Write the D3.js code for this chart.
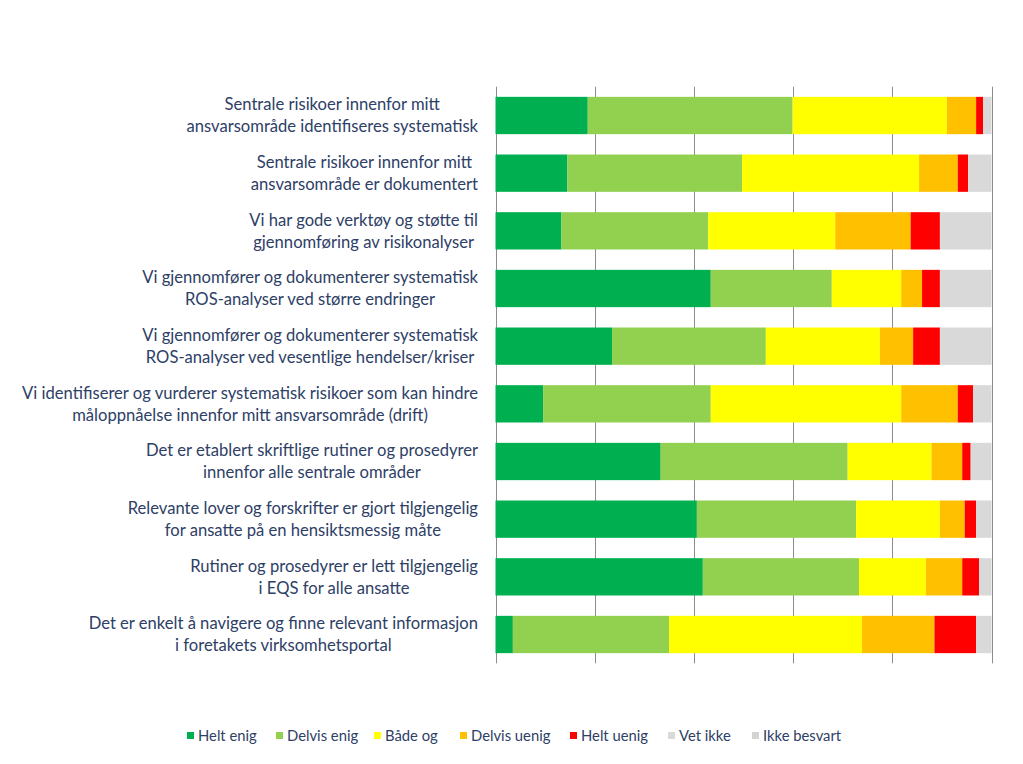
<!DOCTYPE html>
<html><head><meta charset="utf-8">
<script src="https://cdn.jsdelivr.net/npm/d3@7"></script>
<style>body{margin:0;background:#fff}svg{display:block}</style>
</head><body>
<svg id="chart" width="1023" height="764"></svg>
<script>
const categories = [
  ["Sentrale risikoer innenfor mitt","ansvarsområde identifiseres systematisk"],
  ["Sentrale risikoer innenfor mitt","ansvarsområde er dokumentert"],
  ["Vi har gode verktøy og støtte til","gjennomføring av risikonalyser"],
  ["Vi gjennomfører og dokumenterer systematisk","ROS-analyser ved større endringer"],
  ["Vi gjennomfører og dokumenterer systematisk","ROS-analyser ved vesentlige hendelser/kriser"],
  ["Vi identifiserer og vurderer systematisk risikoer som kan hindre","måloppnåelse innenfor mitt ansvarsområde (drift)"],
  ["Det er etablert skriftlige rutiner og prosedyrer","innenfor alle sentrale områder"],
  ["Relevante lover og forskrifter er gjort tilgjengelig","for ansatte på en hensiktsmessig måte"],
  ["Rutiner og prosedyrer er lett tilgjengelig","i EQS for alle ansatte"],
  ["Det er enkelt å navigere og finne relevant informasjon","i foretakets virksomhetsportal"]
];
const seriesNames = ["Helt enig","Delvis enig","Både og","Delvis uenig","Helt uenig","Vet ikke","Ikke besvart"];
const seriesColors = ["#00B050","#92D050","#FFFF00","#FFC000","#FF0000","#D9D9D9","#D3D3D3"];
const heltEnig    = [18.6, 14.5, 13.3, 43.4, 23.5,  9.6, 33.3, 40.6, 41.8,  3.5];
const delvisEnig  = [41.3, 35.2, 29.6, 24.4, 31.0, 33.8, 37.7, 32.1, 31.5, 31.5];
const badeOg      = [31.1, 35.7, 25.6, 14.0, 23.0, 38.4, 16.9, 16.9, 13.5, 38.9];
const delvisUenig = [ 5.9,  7.8, 15.2,  4.2,  6.7, 11.4,  6.2,  5.0,  7.3, 14.6];
const heltUenig   = [ 1.4,  2.1,  5.9,  3.6,  5.4,  3.1,  1.7,  2.3,  3.4,  8.4];
const vetIkke     = [ 1.7,  4.7, 10.4, 10.4, 10.4,  3.7,  4.2,  3.1,  2.5,  3.1];
const ikkeBesvart = [ 0,    0,    0,    0,    0,    0,    0,    0,    0,    0  ];
const xTicks = [0, 20, 40, 60, 80, 100];

const seriesValues = [heltEnig, delvisEnig, badeOg, delvisUenig, heltUenig, vetIkke, ikkeBesvart];
const rows = categories.map((c, i) => {
  const r = {id: i};
  seriesNames.forEach((s, j) => r[s] = seriesValues[j][i]);
  return r;
});
const stack = d3.stack().keys(seriesNames).offset(d3.stackOffsetExpand)(rows);

const svg = d3.select("#chart");
const plotLeft = 495.5, plotRight = 991.5, plotTop = 86.7, plotBottom = 663.3;
const x = d3.scaleLinear().domain([0, 1]).range([plotLeft, plotRight]);
const y = d3.scaleBand().domain(d3.range(categories.length)).range([plotTop, plotBottom]).paddingInner(0.353).paddingOuter(0.176);
const textColor = "#2E4066";

// gridlines
svg.append("g").selectAll("line").data(xTicks).join("line")
  .attr("x1", d => Math.round(x(d/100)) + 0.5).attr("x2", d => Math.round(x(d/100)) + 0.5)
  .attr("y1", plotTop).attr("y2", plotBottom)
  .attr("stroke", "#8C8C8C").attr("stroke-width", 1);

// bars
svg.append("g").selectAll("g").data(stack).join("g")
  .attr("fill", (d, i) => seriesColors[i])
  .selectAll("rect").data(d => d).join("rect")
  .attr("x", d => x(d[0])).attr("width", d => Math.max(0, x(d[1]) - x(d[0])))
  .attr("y", (d, i) => y(i)).attr("height", y.bandwidth());

// category labels (centered lines, block right-aligned)
const labelG = svg.append("g").attr("font-family", "Lato, 'Open Sans', sans-serif").attr("font-size", 16.6).attr("fill", textColor);
categories.forEach((lines, i) => {
  const cy = y(i) + y.bandwidth() / 2;
  const g = labelG.append("g");
  const texts = lines.map((ln, k) => g.append("text").text(ln)
      .attr("y", cy + (k - (lines.length - 1) / 2) * 22).attr("dy", "0.35em"));
  const widths = texts.map(t => t.node().getComputedTextLength());
  const maxW = d3.max(widths);
  const centerX = 478 - maxW / 2;
  texts.forEach(t => t.attr("x", centerX).attr("text-anchor", "middle"));
});

// legend
const legendX = [187, 276, 374, 460, 570, 668, 752];
const lg = svg.append("g").attr("font-family", "Lato, 'Open Sans', sans-serif").attr("font-size", 14.8).attr("fill", textColor);
seriesNames.forEach((s, i) => {
  lg.append("rect").attr("x", legendX[i]).attr("y", 732).attr("width", 7).attr("height", 7).attr("fill", seriesColors[i]);
  lg.append("text").attr("x", legendX[i] + 11).attr("y", 736).attr("dy", "0.35em").text(s);
});
</script>
</body></html>
